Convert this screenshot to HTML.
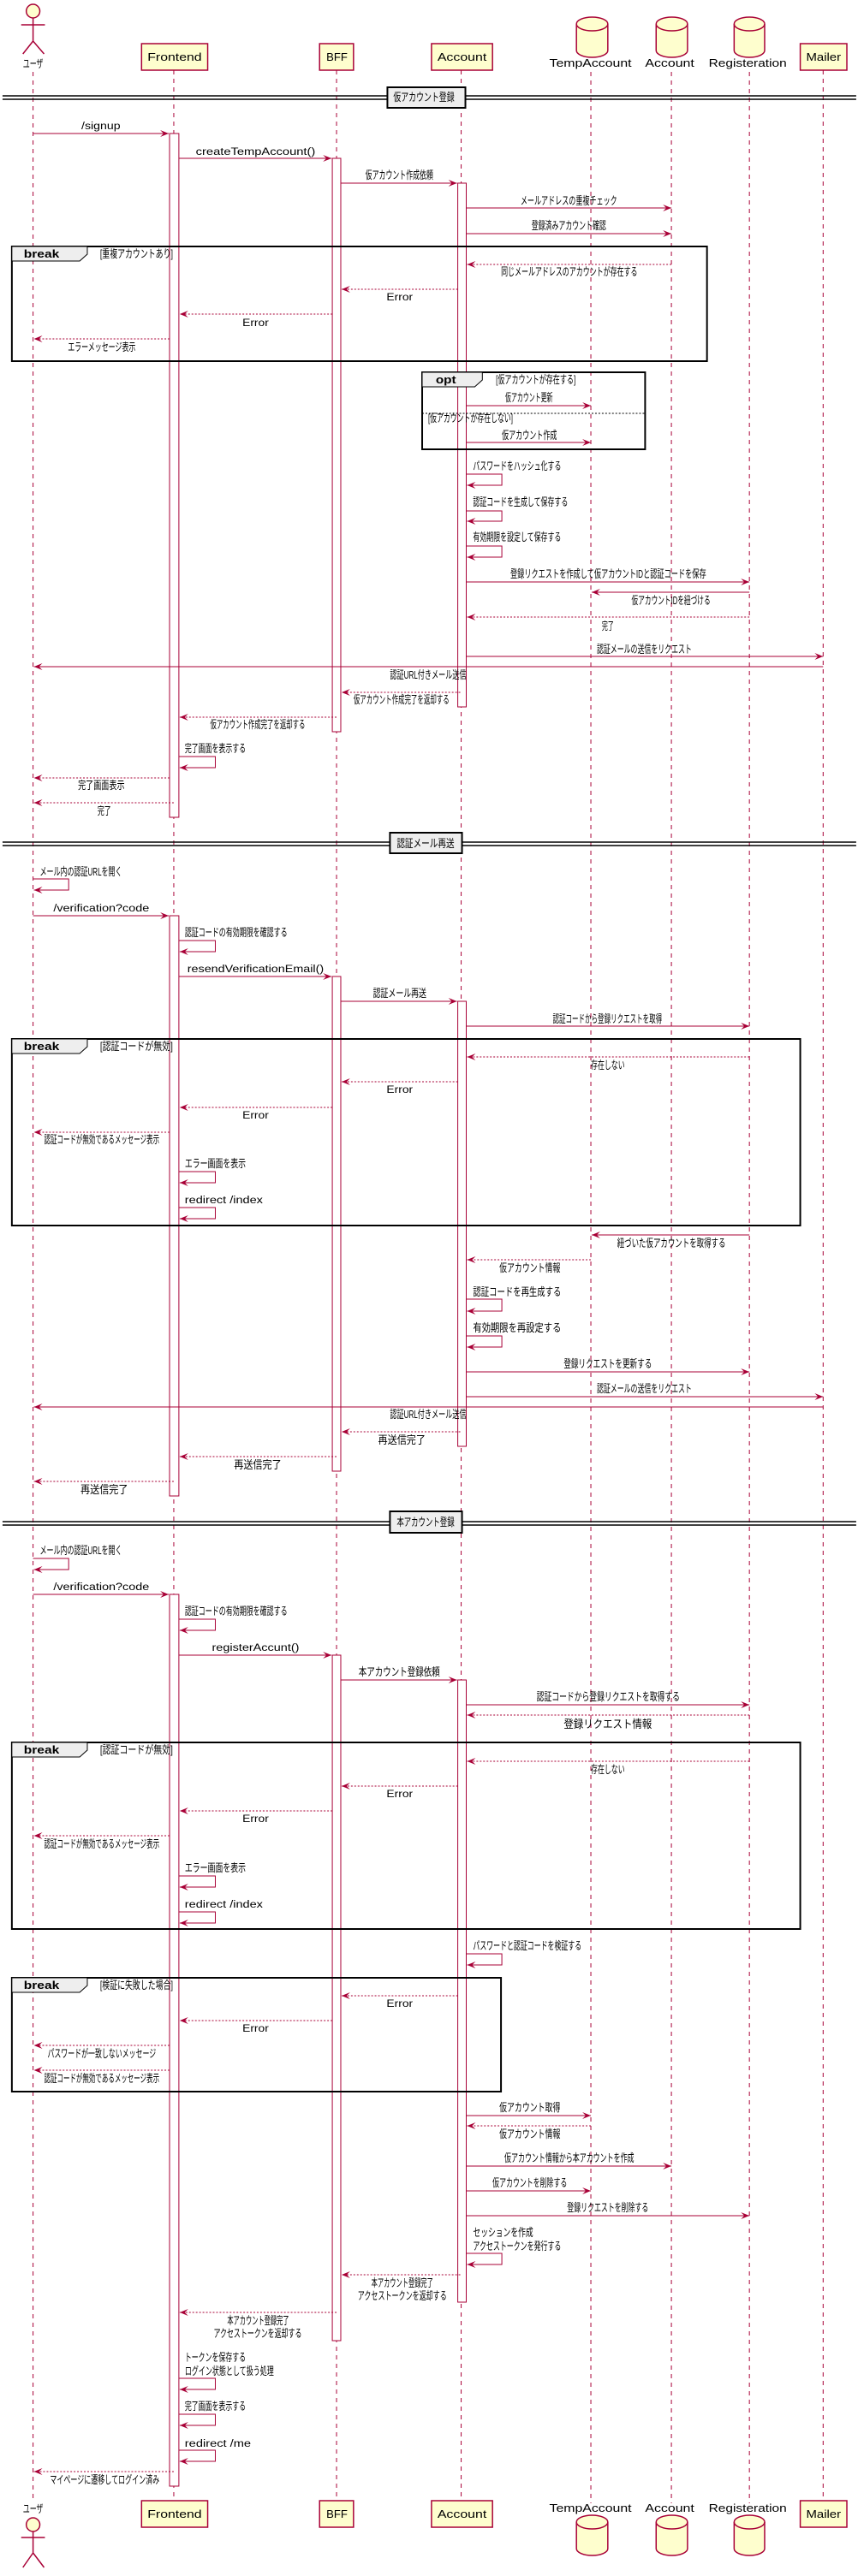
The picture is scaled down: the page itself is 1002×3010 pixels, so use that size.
<!DOCTYPE html>
<html><head><meta charset="utf-8">
<style>
html,body{margin:0;padding:0;background:#fff;}
svg{display:block}
text{font-family:"Liberation Sans","Noto Sans CJK JP",sans-serif;font-size:13px;fill:#000}
text.lt{font-size:12px}
.ll{stroke:#A80036;stroke-width:1;stroke-dasharray:5,5;fill:none}
.m{stroke:#A80036;stroke-width:1;fill:none}
.d{stroke:#A80036;stroke-width:1;stroke-dasharray:2,2;fill:none}
.a{fill:#A80036}
.act{fill:#fff;stroke:#A80036;stroke-width:1}
.pb{fill:#FEFECE;stroke:#A80036;stroke-width:1.5}
.fr{fill:none;stroke:#000;stroke-width:2}
.tab{fill:#EEEEEE;stroke:#000;stroke-width:1}
.b{font-weight:bold}
</style></head>
<body>
<svg width="1002" height="3010" viewBox="0 0 1002 3010" xmlns="http://www.w3.org/2000/svg">
<g transform="scale(0.99 1)">
<!-- lifelines -->
<g class="ll">
<line x1="39" y1="84" x2="39" y2="2922"/>
<line x1="205" y1="82" x2="205" y2="2922"/>
<line x1="397" y1="82" x2="397" y2="2922"/>
<line x1="544" y1="82" x2="544" y2="2922"/>
<line x1="697" y1="84" x2="697" y2="2925"/>
<line x1="792" y1="84" x2="792" y2="2925"/>
<line x1="884" y1="84" x2="884" y2="2925"/>
<line x1="971" y1="82" x2="971" y2="2922"/>
</g>

<!-- top participants -->
<g>
<circle cx="39" cy="13" r="8" fill="#FEFECE" stroke="#A80036" stroke-width="1.5"/>
<path d="M39 21 V48 M25 29 H53 M39 48 L27 63 M39 48 L52 63" stroke="#A80036" stroke-width="1.5" fill="none"/>
<text x="27" y="79" textLength="24" lengthAdjust="spacingAndGlyphs">ユーザ</text>
<rect class="pb" x="167" y="51" width="78" height="31"/>
<text x="174" y="71" textLength="64" lengthAdjust="spacingAndGlyphs">Frontend</text>
<rect class="pb" x="377" y="51" width="40" height="31"/>
<text x="385" y="71" textLength="25" lengthAdjust="spacingAndGlyphs">BFF</text>
<rect class="pb" x="509" y="51" width="72" height="31"/>
<text x="516" y="71" textLength="58" lengthAdjust="spacingAndGlyphs">Account</text>
<rect class="pb" x="944" y="51" width="55" height="31"/>
<text x="951" y="71" textLength="41" lengthAdjust="spacingAndGlyphs">Mailer</text>
<g fill="#FEFECE" stroke="#A80036" stroke-width="1.5">
<path d="M680 28 A18.5 8 0 0 1 717 28 V59 A18.5 8 0 0 1 680 59 Z"/><path d="M680 28 A18.5 8 0 0 0 717 28" fill="none"/>
<path d="M774 28 A18.5 8 0 0 1 811 28 V59 A18.5 8 0 0 1 774 59 Z"/><path d="M774 28 A18.5 8 0 0 0 811 28" fill="none"/>
<path d="M866 28 A18 8 0 0 1 902 28 V59 A18 8 0 0 1 866 59 Z"/><path d="M866 28 A18 8 0 0 0 902 28" fill="none"/>
</g>
<text x="648" y="78" textLength="97" lengthAdjust="spacingAndGlyphs">TempAccount</text>
<text x="761" y="78" textLength="58" lengthAdjust="spacingAndGlyphs">Account</text>
<text x="836" y="78" textLength="92" lengthAdjust="spacingAndGlyphs">Registeration</text>
</g>

<!-- bottom participants -->
<g>
<text x="27" y="2936" textLength="24" lengthAdjust="spacingAndGlyphs">ユーザ</text>
<circle cx="39" cy="2950" r="8" fill="#FEFECE" stroke="#A80036" stroke-width="1.5"/>
<path d="M39 2958 V2983 M25 2965 H53 M39 2983 L27 3000 M39 2983 L52 3000" stroke="#A80036" stroke-width="1.5" fill="none"/>
<rect class="pb" x="167" y="2922" width="78" height="31"/>
<text x="174" y="2942" textLength="64" lengthAdjust="spacingAndGlyphs">Frontend</text>
<rect class="pb" x="377" y="2922" width="40" height="31"/>
<text x="385" y="2942" textLength="25" lengthAdjust="spacingAndGlyphs">BFF</text>
<rect class="pb" x="509" y="2922" width="72" height="31"/>
<text x="516" y="2942" textLength="58" lengthAdjust="spacingAndGlyphs">Account</text>
<rect class="pb" x="944" y="2922" width="55" height="31"/>
<text x="951" y="2942" textLength="41" lengthAdjust="spacingAndGlyphs">Mailer</text>
<text x="648" y="2935" textLength="97" lengthAdjust="spacingAndGlyphs">TempAccount</text>
<text x="761" y="2935" textLength="58" lengthAdjust="spacingAndGlyphs">Account</text>
<text x="836" y="2935" textLength="92" lengthAdjust="spacingAndGlyphs">Registeration</text>
<g fill="#FEFECE" stroke="#A80036" stroke-width="1.5">
<path d="M680 2947 A18.5 8 0 0 1 717 2947 V2978 A18.5 8 0 0 1 680 2978 Z"/><path d="M680 2947 A18.5 8 0 0 0 717 2947" fill="none"/>
<path d="M774 2947 A18.5 8 0 0 1 811 2947 V2978 A18.5 8 0 0 1 774 2978 Z"/><path d="M774 2947 A18.5 8 0 0 0 811 2947" fill="none"/>
<path d="M866 2947 A18 8 0 0 1 902 2947 V2978 A18 8 0 0 1 866 2978 Z"/><path d="M866 2947 A18 8 0 0 0 902 2947" fill="none"/>
</g>
</g>

<!-- separators -->
<g>
<path d="M3 112 H1010 M3 116 H1010" stroke="#000" stroke-width="1.5"/>
<rect x="457" y="102" width="92" height="24" fill="#EEEEEE" stroke="#000" stroke-width="2"/>
<text x="464" y="118" textLength="72" lengthAdjust="spacingAndGlyphs">仮アカウント登録</text>
<path d="M3 984 H1010 M3 988 H1010" stroke="#000" stroke-width="1.5"/>
<rect x="460" y="973" width="85" height="24" fill="#EEEEEE" stroke="#000" stroke-width="2"/>
<text x="468" y="990" textLength="68" lengthAdjust="spacingAndGlyphs">認証メール再送</text>
<path d="M3 1778 H1010 M3 1782 H1010" stroke="#000" stroke-width="1.5"/>
<rect x="460" y="1766" width="85" height="25" fill="#EEEEEE" stroke="#000" stroke-width="2"/>
<text x="468" y="1783" textLength="68" lengthAdjust="spacingAndGlyphs">本アカウント登録</text>
</g>

<!-- activations -->
<g>
<rect class="act" x="200" y="156" width="11" height="799"/>
<rect class="act" x="200" y="1070" width="11" height="678"/>
<rect class="act" x="200" y="1863" width="11" height="1042"/>
<rect class="act" x="392" y="185" width="10" height="670"/>
<rect class="act" x="392" y="1141" width="10" height="578"/>
<rect class="act" x="392" y="1934" width="10" height="801"/>
<rect class="act" x="540" y="214" width="10" height="612"/>
<rect class="act" x="540" y="1170" width="10" height="520"/>
<rect class="act" x="540" y="1963" width="10" height="727"/>
</g>

<!-- frames -->
<g>
<rect class="fr" x="14" y="288" width="820" height="134"/>
<path class="tab" d="M14 288 H103 V297 L94 305 H14 Z"/>
<text x="28" y="301" class="b" textLength="42" lengthAdjust="spacingAndGlyphs">break</text>
<text x="118" y="301" textLength="86" lengthAdjust="spacingAndGlyphs">[重複アカウントあり]</text>

<rect class="fr" x="498" y="435" width="263" height="90"/>
<path class="tab" d="M498 435 H569 V444 L560 452 H498 Z"/>
<text x="514" y="448" class="b" textLength="24" lengthAdjust="spacingAndGlyphs">opt</text>
<text x="585" y="448" textLength="94" lengthAdjust="spacingAndGlyphs">[仮アカウントが存在する]</text>
<line x1="498" y1="483" x2="761" y2="483" stroke="#000" stroke-dasharray="2,2"/>
<text x="505" y="493" textLength="100" lengthAdjust="spacingAndGlyphs">[仮アカウントが存在しない]</text>

<rect class="fr" x="14" y="1214" width="930" height="218"/>
<path class="tab" d="M14 1214 H103 V1223 L94 1231 H14 Z"/>
<text x="28" y="1227" class="b" textLength="42" lengthAdjust="spacingAndGlyphs">break</text>
<text x="118" y="1227" textLength="86" lengthAdjust="spacingAndGlyphs">[認証コードが無効]</text>

<rect class="fr" x="14" y="2036" width="930" height="218"/>
<path class="tab" d="M14 2036 H103 V2045 L94 2053 H14 Z"/>
<text x="28" y="2049" class="b" textLength="42" lengthAdjust="spacingAndGlyphs">break</text>
<text x="118" y="2049" textLength="86" lengthAdjust="spacingAndGlyphs">[認証コードが無効]</text>

<rect class="fr" x="14" y="2311" width="577" height="133"/>
<path class="tab" d="M14 2311 H103 V2320 L94 2328 H14 Z"/>
<text x="28" y="2324" class="b" textLength="42" lengthAdjust="spacingAndGlyphs">break</text>
<text x="118" y="2324" textLength="86" lengthAdjust="spacingAndGlyphs">[検証に失敗した場合]</text>
</g>

<!-- messages section 1 -->
<g>
<line class="m" x1="39" y1="156" x2="199" y2="156"/><polygon class="a" points="189,152 199,156 189,160 193,156"/>
<text class="lt" x="96" y="151" textLength="46" lengthAdjust="spacingAndGlyphs">/signup</text>
<line class="m" x1="211" y1="185" x2="391" y2="185"/><polygon class="a" points="381,181 391,185 381,189 385,185"/>
<text class="lt" x="231" y="181" textLength="141" lengthAdjust="spacingAndGlyphs">createTempAccount()</text>
<line class="m" x1="402" y1="214" x2="539" y2="214"/><polygon class="a" points="529,210 539,214 529,218 533,214"/>
<text x="431" y="209" textLength="80" lengthAdjust="spacingAndGlyphs">仮アカウント作成依頼</text>
<line class="m" x1="550" y1="243" x2="792" y2="243"/><polygon class="a" points="782,239 792,243 782,247 786,243"/>
<text x="614" y="239" textLength="114" lengthAdjust="spacingAndGlyphs">メールアドレスの重複チェック</text>
<line class="m" x1="550" y1="273" x2="792" y2="273"/><polygon class="a" points="782,269 792,273 782,277 786,273"/>
<text x="627" y="268" textLength="88" lengthAdjust="spacingAndGlyphs">登録済みアカウント確認</text>

<line class="d" x1="792" y1="309" x2="551" y2="309"/><polygon class="a" points="561,305 551,309 561,313 557,309"/>
<text x="591" y="322" textLength="161" lengthAdjust="spacingAndGlyphs">同じメールアドレスのアカウントが存在する</text>
<line class="d" x1="540" y1="338" x2="403" y2="338"/><polygon class="a" points="413,334 403,338 413,342 409,338"/>
<text class="lt" x="456" y="351" textLength="31" lengthAdjust="spacingAndGlyphs">Error</text>
<line class="d" x1="392" y1="367" x2="212" y2="367"/><polygon class="a" points="222,363 212,367 222,371 218,367"/>
<text class="lt" x="286" y="381" textLength="31" lengthAdjust="spacingAndGlyphs">Error</text>
<line class="d" x1="200" y1="396" x2="40" y2="396"/><polygon class="a" points="50,392 40,396 50,400 46,396"/>
<text x="80" y="410" textLength="80" lengthAdjust="spacingAndGlyphs">エラーメッセージ表示</text>

<line class="m" x1="550" y1="474" x2="697" y2="474"/><polygon class="a" points="687,470 697,474 687,478 691,474"/>
<text x="596" y="469" textLength="56" lengthAdjust="spacingAndGlyphs">仮アカウント更新</text>
<line class="m" x1="550" y1="517" x2="697" y2="517"/><polygon class="a" points="687,513 697,517 687,521 691,517"/>
<text x="592" y="513" textLength="65" lengthAdjust="spacingAndGlyphs">仮アカウント作成</text>

<path class="m" d="M550 554 H592 V567 H551"/><polygon class="a" points="561,563 551,567 561,571 557,567"/>
<text x="558" y="549" textLength="104" lengthAdjust="spacingAndGlyphs">パスワードをハッシュ化する</text>
<path class="m" d="M550 597 H592 V609 H551"/><polygon class="a" points="561,605 551,609 561,613 557,609"/>
<text x="558" y="591" textLength="112" lengthAdjust="spacingAndGlyphs">認証コードを生成して保存する</text>
<path class="m" d="M550 638 H592 V651 H551"/><polygon class="a" points="561,647 551,651 561,655 557,651"/>
<text x="558" y="632" textLength="104" lengthAdjust="spacingAndGlyphs">有効期限を設定して保存する</text>

<line class="m" x1="550" y1="680" x2="884" y2="680"/><polygon class="a" points="874,676 884,680 874,684 878,680"/>
<text x="602" y="675" textLength="231" lengthAdjust="spacingAndGlyphs">登録リクエストを作成して仮アカウントIDと認証コードを保存</text>
<line class="m" x1="884" y1="692" x2="698" y2="692"/><polygon class="a" points="708,688 698,692 708,696 704,692"/>
<text x="745" y="706" textLength="93" lengthAdjust="spacingAndGlyphs">仮アカウントIDを紐づける</text>
<line class="d" x1="884" y1="721" x2="551" y2="721"/><polygon class="a" points="561,717 551,721 561,725 557,721"/>
<text x="710" y="736" textLength="14" lengthAdjust="spacingAndGlyphs">完了</text>

<line class="m" x1="550" y1="767" x2="971" y2="767"/><polygon class="a" points="961,763 971,767 961,771 965,767"/>
<text x="704" y="763" textLength="112" lengthAdjust="spacingAndGlyphs">認証メールの送信をリクエスト</text>
<line class="m" x1="971" y1="779" x2="40" y2="779"/><polygon class="a" points="50,775 40,779 50,783 46,779"/>
<text x="460" y="793" textLength="90" lengthAdjust="spacingAndGlyphs">認証URL付きメール送信</text>
<line class="d" x1="543" y1="809" x2="403" y2="809"/><polygon class="a" points="413,805 403,809 413,813 409,809"/>
<text x="417" y="822" textLength="113" lengthAdjust="spacingAndGlyphs">仮アカウント作成完了を返却する</text>
<line class="d" x1="397" y1="838" x2="212" y2="838"/><polygon class="a" points="222,834 212,838 222,842 218,838"/>
<text x="248" y="851" textLength="112" lengthAdjust="spacingAndGlyphs">仮アカウント作成完了を返却する</text>
<path class="m" d="M211 884 H254 V897 H212"/><polygon class="a" points="222,893 212,897 222,901 218,897"/>
<text x="218" y="879" textLength="72" lengthAdjust="spacingAndGlyphs">完了画面を表示する</text>
<line class="d" x1="200" y1="909" x2="40" y2="909"/><polygon class="a" points="50,905 40,909 50,913 46,909"/>
<text x="92" y="922" textLength="55" lengthAdjust="spacingAndGlyphs">完了画面表示</text>
<line class="d" x1="205" y1="938" x2="40" y2="938"/><polygon class="a" points="50,934 40,938 50,942 46,938"/>
<text x="115" y="952" textLength="16" lengthAdjust="spacingAndGlyphs">完了</text>
</g>

<!-- section 2 -->
<g>
<path class="m" d="M39 1027 H81 V1040 H40"/><polygon class="a" points="50,1036 40,1040 50,1044 46,1040"/>
<text x="47" y="1023" textLength="97" lengthAdjust="spacingAndGlyphs">メール内の認証URLを開く</text>
<line class="m" x1="39" y1="1070" x2="199" y2="1070"/><polygon class="a" points="189,1066 199,1070 189,1074 193,1070"/>
<text class="lt" x="63" y="1065" textLength="113" lengthAdjust="spacingAndGlyphs">/verification?code</text>
<path class="m" d="M211 1099 H254 V1112 H212"/><polygon class="a" points="222,1108 212,1112 222,1116 218,1112"/>
<text x="218" y="1094" textLength="121" lengthAdjust="spacingAndGlyphs">認証コードの有効期限を確認する</text>
<line class="m" x1="211" y1="1141" x2="391" y2="1141"/><polygon class="a" points="381,1137 391,1141 381,1145 385,1141"/>
<text class="lt" x="221" y="1136" textLength="161" lengthAdjust="spacingAndGlyphs">resendVerificationEmail()</text>
<line class="m" x1="402" y1="1170" x2="539" y2="1170"/><polygon class="a" points="529,1166 539,1170 529,1174 533,1170"/>
<text x="440" y="1165" textLength="63" lengthAdjust="spacingAndGlyphs">認証メール再送</text>
<line class="m" x1="550" y1="1199" x2="884" y2="1199"/><polygon class="a" points="874,1195 884,1199 874,1203 878,1199"/>
<text x="652" y="1195" textLength="129" lengthAdjust="spacingAndGlyphs">認証コードから登録リクエストを取得</text>

<line class="d" x1="884" y1="1235" x2="551" y2="1235"/><polygon class="a" points="561,1231 551,1235 561,1239 557,1235"/>
<text x="697" y="1249" textLength="40" lengthAdjust="spacingAndGlyphs">存在しない</text>
<line class="d" x1="540" y1="1264" x2="403" y2="1264"/><polygon class="a" points="413,1260 403,1264 413,1268 409,1264"/>
<text class="lt" x="456" y="1277" textLength="31" lengthAdjust="spacingAndGlyphs">Error</text>
<line class="d" x1="392" y1="1294" x2="212" y2="1294"/><polygon class="a" points="222,1290 212,1294 222,1298 218,1294"/>
<text class="lt" x="286" y="1307" textLength="31" lengthAdjust="spacingAndGlyphs">Error</text>
<line class="d" x1="200" y1="1323" x2="40" y2="1323"/><polygon class="a" points="50,1319 40,1323 50,1327 46,1323"/>
<text x="52" y="1336" textLength="136" lengthAdjust="spacingAndGlyphs">認証コードが無効であるメッセージ表示</text>
<path class="m" d="M211 1369 H254 V1382 H212"/><polygon class="a" points="222,1378 212,1382 222,1386 218,1382"/>
<text x="218" y="1364" textLength="72" lengthAdjust="spacingAndGlyphs">エラー画面を表示</text>
<path class="m" d="M211 1411 H254 V1424 H212"/><polygon class="a" points="222,1420 212,1424 222,1428 218,1424"/>
<text class="lt" x="218" y="1406" textLength="92" lengthAdjust="spacingAndGlyphs">redirect /index</text>

<line class="m" x1="884" y1="1443" x2="698" y2="1443"/><polygon class="a" points="708,1439 698,1443 708,1447 704,1443"/>
<text x="728" y="1457" textLength="128" lengthAdjust="spacingAndGlyphs">紐づいた仮アカウントを取得する</text>
<line class="d" x1="697" y1="1472" x2="551" y2="1472"/><polygon class="a" points="561,1468 551,1472 561,1476 557,1472"/>
<text x="589" y="1486" textLength="72" lengthAdjust="spacingAndGlyphs">仮アカウント情報</text>
<path class="m" d="M550 1518 H592 V1532 H551"/><polygon class="a" points="561,1528 551,1532 561,1536 557,1532"/>
<text x="558" y="1514" textLength="104" lengthAdjust="spacingAndGlyphs">認証コードを再生成する</text>
<path class="m" d="M550 1561 H592 V1574 H551"/><polygon class="a" points="561,1570 551,1574 561,1578 557,1574"/>
<text x="558" y="1556" textLength="104" lengthAdjust="spacingAndGlyphs">有効期限を再設定する</text>
<line class="m" x1="550" y1="1603" x2="884" y2="1603"/><polygon class="a" points="874,1599 884,1603 874,1607 878,1603"/>
<text x="665" y="1598" textLength="104" lengthAdjust="spacingAndGlyphs">登録リクエストを更新する</text>
<line class="m" x1="550" y1="1632" x2="971" y2="1632"/><polygon class="a" points="961,1628 971,1632 961,1636 965,1632"/>
<text x="704" y="1627" textLength="112" lengthAdjust="spacingAndGlyphs">認証メールの送信をリクエスト</text>
<line class="m" x1="971" y1="1644" x2="40" y2="1644"/><polygon class="a" points="50,1640 40,1644 50,1648 46,1644"/>
<text x="460" y="1657" textLength="90" lengthAdjust="spacingAndGlyphs">認証URL付きメール送信</text>
<line class="d" x1="543" y1="1673" x2="403" y2="1673"/><polygon class="a" points="413,1669 403,1673 413,1677 409,1673"/>
<text x="446" y="1687" textLength="56" lengthAdjust="spacingAndGlyphs">再送信完了</text>
<line class="d" x1="397" y1="1702" x2="212" y2="1702"/><polygon class="a" points="222,1698 212,1702 222,1706 218,1702"/>
<text x="276" y="1716" textLength="56" lengthAdjust="spacingAndGlyphs">再送信完了</text>
<line class="d" x1="205" y1="1731" x2="40" y2="1731"/><polygon class="a" points="50,1727 40,1731 50,1735 46,1731"/>
<text x="95" y="1745" textLength="56" lengthAdjust="spacingAndGlyphs">再送信完了</text>
</g>

<!-- section 3 -->
<g>
<path class="m" d="M39 1821 H81 V1834 H40"/><polygon class="a" points="50,1830 40,1834 50,1838 46,1834"/>
<text x="47" y="1816" textLength="97" lengthAdjust="spacingAndGlyphs">メール内の認証URLを開く</text>
<line class="m" x1="39" y1="1863" x2="199" y2="1863"/><polygon class="a" points="189,1859 199,1863 189,1867 193,1863"/>
<text class="lt" x="63" y="1858" textLength="113" lengthAdjust="spacingAndGlyphs">/verification?code</text>
<path class="m" d="M211 1892 H254 V1905 H212"/><polygon class="a" points="222,1901 212,1905 222,1909 218,1905"/>
<text x="218" y="1887" textLength="121" lengthAdjust="spacingAndGlyphs">認証コードの有効期限を確認する</text>
<line class="m" x1="211" y1="1934" x2="391" y2="1934"/><polygon class="a" points="381,1930 391,1934 381,1938 385,1934"/>
<text class="lt" x="250" y="1929" textLength="103" lengthAdjust="spacingAndGlyphs">registerAccunt()</text>
<line class="m" x1="402" y1="1963" x2="539" y2="1963"/><polygon class="a" points="529,1959 539,1963 529,1967 533,1963"/>
<text x="423" y="1958" textLength="96" lengthAdjust="spacingAndGlyphs">本アカウント登録依頼</text>
<line class="m" x1="550" y1="1992" x2="884" y2="1992"/><polygon class="a" points="874,1988 884,1992 874,1996 878,1992"/>
<text x="633" y="1987" textLength="169" lengthAdjust="spacingAndGlyphs">認証コードから登録リクエストを取得する</text>
<line class="d" x1="884" y1="2004" x2="551" y2="2004"/><polygon class="a" points="561,2000 551,2004 561,2008 557,2004"/>
<text x="665" y="2019" textLength="104" lengthAdjust="spacingAndGlyphs">登録リクエスト情報</text>

<line class="d" x1="884" y1="2058" x2="551" y2="2058"/><polygon class="a" points="561,2054 551,2058 561,2062 557,2058"/>
<text x="697" y="2072" textLength="40" lengthAdjust="spacingAndGlyphs">存在しない</text>
<line class="d" x1="540" y1="2087" x2="403" y2="2087"/><polygon class="a" points="413,2083 403,2087 413,2091 409,2087"/>
<text class="lt" x="456" y="2100" textLength="31" lengthAdjust="spacingAndGlyphs">Error</text>
<line class="d" x1="392" y1="2116" x2="212" y2="2116"/><polygon class="a" points="222,2112 212,2116 222,2120 218,2116"/>
<text class="lt" x="286" y="2129" textLength="31" lengthAdjust="spacingAndGlyphs">Error</text>
<line class="d" x1="200" y1="2145" x2="40" y2="2145"/><polygon class="a" points="50,2141 40,2145 50,2149 46,2145"/>
<text x="52" y="2159" textLength="136" lengthAdjust="spacingAndGlyphs">認証コードが無効であるメッセージ表示</text>
<path class="m" d="M211 2192 H254 V2205 H212"/><polygon class="a" points="222,2201 212,2205 222,2209 218,2205"/>
<text x="218" y="2187" textLength="72" lengthAdjust="spacingAndGlyphs">エラー画面を表示</text>
<path class="m" d="M211 2234 H254 V2247 H212"/><polygon class="a" points="222,2243 212,2247 222,2251 218,2247"/>
<text class="lt" x="218" y="2229" textLength="92" lengthAdjust="spacingAndGlyphs">redirect /index</text>

<path class="m" d="M550 2283 H592 V2296 H551"/><polygon class="a" points="561,2292 551,2296 561,2300 557,2296"/>
<text x="558" y="2278" textLength="128" lengthAdjust="spacingAndGlyphs">パスワードと認証コードを検証する</text>

<line class="d" x1="540" y1="2332" x2="403" y2="2332"/><polygon class="a" points="413,2328 403,2332 413,2336 409,2332"/>
<text class="lt" x="456" y="2345" textLength="31" lengthAdjust="spacingAndGlyphs">Error</text>
<line class="d" x1="392" y1="2361" x2="212" y2="2361"/><polygon class="a" points="222,2357 212,2361 222,2365 218,2361"/>
<text class="lt" x="286" y="2374" textLength="31" lengthAdjust="spacingAndGlyphs">Error</text>
<line class="d" x1="200" y1="2390" x2="40" y2="2390"/><polygon class="a" points="50,2386 40,2390 50,2394 46,2390"/>
<text x="56" y="2404" textLength="128" lengthAdjust="spacingAndGlyphs">パスワードが一致しないメッセージ</text>
<line class="d" x1="200" y1="2419" x2="40" y2="2419"/><polygon class="a" points="50,2415 40,2419 50,2423 46,2419"/>
<text x="52" y="2433" textLength="136" lengthAdjust="spacingAndGlyphs">認証コードが無効であるメッセージ表示</text>

<line class="m" x1="550" y1="2472" x2="697" y2="2472"/><polygon class="a" points="687,2468 697,2472 687,2476 691,2472"/>
<text x="589" y="2467" textLength="72" lengthAdjust="spacingAndGlyphs">仮アカウント取得</text>
<line class="d" x1="697" y1="2484" x2="551" y2="2484"/><polygon class="a" points="561,2480 551,2484 561,2488 557,2484"/>
<text x="589" y="2498" textLength="72" lengthAdjust="spacingAndGlyphs">仮アカウント情報</text>
<line class="m" x1="550" y1="2531" x2="792" y2="2531"/><polygon class="a" points="782,2527 792,2531 782,2535 786,2531"/>
<text x="595" y="2526" textLength="153" lengthAdjust="spacingAndGlyphs">仮アカウント情報から本アカウントを作成</text>
<line class="m" x1="550" y1="2560" x2="697" y2="2560"/><polygon class="a" points="687,2556 697,2560 687,2564 691,2560"/>
<text x="581" y="2555" textLength="88" lengthAdjust="spacingAndGlyphs">仮アカウントを削除する</text>
<line class="m" x1="550" y1="2589" x2="884" y2="2589"/><polygon class="a" points="874,2585 884,2589 874,2593 878,2589"/>
<text x="669" y="2584" textLength="96" lengthAdjust="spacingAndGlyphs">登録リクエストを削除する</text>
<path class="m" d="M550 2633 H592 V2646 H551"/><polygon class="a" points="561,2642 551,2646 561,2650 557,2646"/>
<text x="558" y="2613" textLength="71" lengthAdjust="spacingAndGlyphs">セッションを作成</text>
<text x="558" y="2629" textLength="104" lengthAdjust="spacingAndGlyphs">アクセストークンを発行する</text>
<line class="d" x1="543" y1="2658" x2="403" y2="2658"/><polygon class="a" points="413,2654 403,2658 413,2662 409,2658"/>
<text x="438" y="2672" textLength="73" lengthAdjust="spacingAndGlyphs">本アカウント登録完了</text>
<text x="422" y="2687" textLength="105" lengthAdjust="spacingAndGlyphs">アクセストークンを返却する</text>
<line class="d" x1="397" y1="2702" x2="212" y2="2702"/><polygon class="a" points="222,2698 212,2702 222,2706 218,2702"/>
<text x="268" y="2716" textLength="73" lengthAdjust="spacingAndGlyphs">本アカウント登録完了</text>
<text x="252" y="2731" textLength="104" lengthAdjust="spacingAndGlyphs">アクセストークンを返却する</text>
<path class="m" d="M211 2779 H254 V2792 H212"/><polygon class="a" points="222,2788 212,2792 222,2796 218,2792"/>
<text x="218" y="2759" textLength="72" lengthAdjust="spacingAndGlyphs">トークンを保存する</text>
<text x="218" y="2775" textLength="105" lengthAdjust="spacingAndGlyphs">ログイン状態として扱う処理</text>
<path class="m" d="M211 2821 H254 V2834 H212"/><polygon class="a" points="222,2830 212,2834 222,2838 218,2834"/>
<text x="218" y="2816" textLength="72" lengthAdjust="spacingAndGlyphs">完了画面を表示する</text>
<path class="m" d="M211 2863 H254 V2876 H212"/><polygon class="a" points="222,2872 212,2876 222,2880 218,2876"/>
<text class="lt" x="218" y="2859" textLength="78" lengthAdjust="spacingAndGlyphs">redirect /me</text>
<line class="d" x1="205" y1="2888" x2="40" y2="2888"/><polygon class="a" points="50,2884 40,2888 50,2892 46,2888"/>
<text x="59" y="2902" textLength="129" lengthAdjust="spacingAndGlyphs">マイページに遷移してログイン済み</text>
</g>
</g>
</svg>
</body></html>
